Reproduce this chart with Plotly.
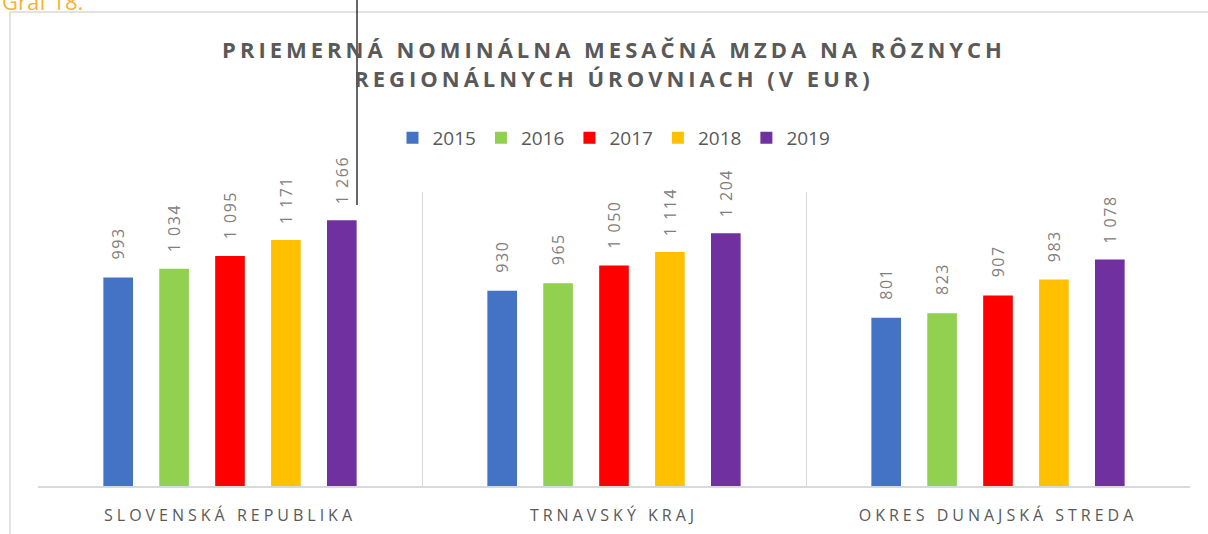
import plotly.graph_objects as go

categories = ["SLOVENSKÁ REPUBLIKA", "TRNAVSKÝ KRAJ", "OKRES DUNAJSKÁ STREDA"]
years = ["2015", "2016", "2017", "2018", "2019"]
values = {
    "2015": [993, 930, 801],
    "2016": [1034, 965, 823],
    "2017": [1095, 1050, 907],
    "2018": [1171, 1114, 983],
    "2019": [1266, 1204, 1078],
}
colors = ["#4472C4", "#92D050", "#FF0000", "#FFC000", "#7030A0"]

W, H = 1208, 534
ML, MR, MT, MB = 38, 18, 192, 48
PW = W - ML - MR
PH = H - MT - MB
BARGAP = 0.272
BARGROUPGAP = 0.47


def px_x(p):
    return (p - ML) / PW


def px_y(p):
    return (H - MB - p) / PH


def fmt(v):
    return f"{v:,}".replace(",", " ")


fig = go.Figure()
for yr, col in zip(years, colors):
    fig.add_trace(go.Bar(
        name=yr, x=categories, y=values[yr],
        marker=dict(color=col, line=dict(width=0)),
        hoverinfo="skip",
    ))

slot = (1 - BARGAP) / len(years)
annotations = []
for j, yr in enumerate(years):
    for i, v in enumerate(values[yr]):
        annotations.append(dict(
            x=i + (j - (len(years) - 1) / 2) * slot, y=v, xref="x", yref="y",
            text=fmt(v), showarrow=False, textangle=-90,
            xanchor="center", yanchor="bottom", yshift=18,
            font=dict(family="Open Sans", size=16, color="#808080"),
        ))

annotations.append(dict(
    x=px_x(0), y=px_y(1.5), xref="paper", yref="paper",
    text="Graf 18.", showarrow=False, xanchor="left", yanchor="middle",
    font=dict(family="Open Sans", size=22, color="#F9B233"),
))

fig.update_layout(
    width=W, height=H,
    margin=dict(l=ML, r=MR, t=MT, b=MB, autoexpand=False),
    paper_bgcolor="white", plot_bgcolor="white",
    barmode="group", bargap=BARGAP, bargroupgap=BARGROUPGAP,
    title=dict(
        text="PRIEMERNÁ NOMINÁLNA MESAČNÁ MZDA NA RÔZNYCH<br>REGIONÁLNYCH ÚROVNIACH (V EUR)",
        x=0.5, xanchor="center", xref="paper",
        y=1 - 58 / H, yanchor="top", yref="container",
        font=dict(family="Open Sans", size=22, color="#595959", weight="bold"),
    ),
    legend=dict(
        orientation="h", x=0.5, xanchor="center", y=px_y(138), yanchor="middle",
        font=dict(family="Open Sans", size=19, color="#595959"),
        itemwidth=30, traceorder="normal",
    ),
    xaxis=dict(
        type="category", tickson="boundaries", showgrid=True,
        gridcolor="#D9D9D9", gridwidth=1,
        showline=True, linecolor="#D9D9D9", linewidth=1.5,
        ticks="", ticklabelstandoff=14, automargin=False,
        tickfont=dict(family="Open Sans", size=16, color="#595959"),
        range=[-0.5, 2.5], fixedrange=True,
    ),
    yaxis=dict(range=[0, 1400], visible=False, fixedrange=True, automargin=False),
    annotations=annotations,
    shapes=[
        dict(type="rect", xref="paper", yref="paper",
             x0=px_x(10), x1=px_x(W + 20), y0=px_y(H + 20), y1=px_y(12),
             line=dict(color="#D9D9D9", width=1.5), layer="below"),
        dict(type="line", xref="paper", yref="paper",
             x0=px_x(357), x1=px_x(357), y0=px_y(205), y1=px_y(-2),
             line=dict(color="#000000", width=1.2)),
    ],
)

post = """
document.body.style.margin='0';
document.body.style.overflow='hidden';
var gd = document.getElementById('{plot_id}');
function sp(){
  gd.querySelectorAll('.gtitle').forEach(function(e){e.style.letterSpacing='4px';});
  gd.querySelectorAll('.xtick text').forEach(function(e){e.style.letterSpacing='4px';});
  gd.querySelectorAll('.annotation-text').forEach(function(e){
    if (e.textContent.indexOf('Graf') < 0) e.style.letterSpacing='1.5px';
  });
}
sp();
gd.on('plotly_afterplot', sp);
"""

fig.write_html("out.html", post_script=post, config={"displayModeBar": False})
